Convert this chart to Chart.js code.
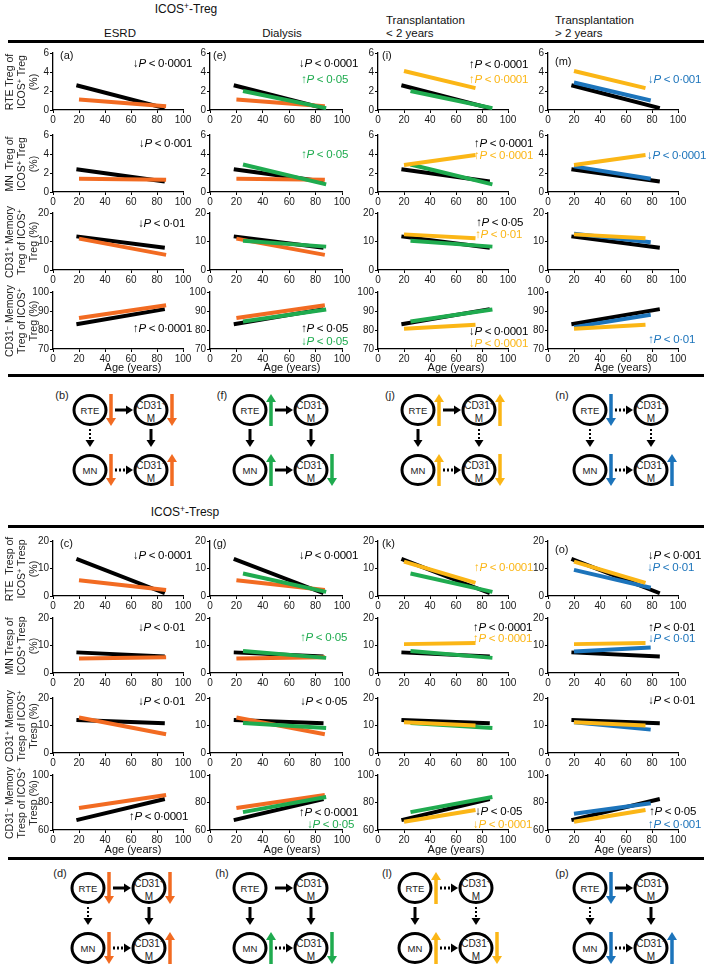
<!DOCTYPE html>
<html>
<head>
<meta charset="utf-8">
<script src="https://cdn.jsdelivr.net/npm/chart.js@4.4.1/dist/chart.umd.min.js"></script>
<style>
  body { margin: 0; background: #fff; }
  #page { position: relative; width: 709px; height: 964px; overflow: hidden;
          font-family: "Liberation Sans", Arial, sans-serif; color: #111; }
  .abs { position: absolute; white-space: nowrap; }
  .rule { position: absolute; left: 8px; width: 696px; height: 3px; background: #000; }
  .hdr { font-size: 11.5px; line-height: 13px; }
  .ylab { position: absolute; width: 110px; height: 36px; text-align: center; font-size: 10.5px;
          line-height: 11.8px; transform: rotate(-90deg); white-space: nowrap; color: #1a1a1a; }
  .pv { font-size: 11.5px; line-height: 12px; letter-spacing: -0.3px; }
  .tag { font-size: 11px; line-height: 12px; }
  sup { font-size: 70%; line-height: 0; vertical-align: 0.45em; }
  canvas { position: absolute; }
  svg { position: absolute; left: 0; top: 0; }
</style>
</head>
<body>
<div id="page">
  <svg id="diag" width="709" height="964"></svg>
</div>
<script>
// --- data -------------------------------------------------------------
// age span (years) of each regression line
const ageHC = [18, 86];
const ageESRD = [20, 87];
const ageDialysis = [25, 88];
const ageTxEarly = [20, 75];
const ageTxLate = [20, 79];

// fitted % at first and last age, one pair per row
// rows: Treg RTE, MN, CD31+ mem, CD31- mem, Tresp RTE, MN, CD31+ mem, CD31- mem
const fitHC       = [[2.6, 0.2], [2.4, 1.1], [11.8, 7.8], [83, 91],   [13.5, 1.0], [7.5, 6.0], [12.0, 10.8], [67.2, 82.5]];
const fitESRD     = [[1.1, 0.4], [1.4, 1.3], [11.0, 5.3], [86.3, 93], [5.7, 2.2],  [5.3, 5.7], [12.9, 6.8],  [76, 85.5]];
const fitDialysis = [[2.0, 0.2], [2.9, 0.8], [10.3, 8.2], [84.5, 90.8], [8.2, 1.5], [8.0, 5.5], [10.9, 9.1],  [73, 84]];
const fitTxEarly  = [[4.1, 2.3], [2.85, 3.9], [12.5, 11.1], [80.6, 82.8], [12.5, 4.8], [10.5, 10.9], [11.2, 10.0], [66, 74.5]];
const fitTxLate   = [[2.9, 1.0], [2.7, 1.4], [12.7, 9.7], [81.5, 88], [9.5, 3.0],  [7.8, 9.3], [11.2, 8.5],  [71.8, 79.5]];

// y axis ranges per row
const yMin  = [0, 0, 0, 70, 0, 0, 0, 60];
const yMax  = [6, 6, 20, 100, 20, 20, 20, 100];
const yStep = [2, 2, 5, 10, 5, 5, 5, 10];
const xMax = 100, xStep = 20;

const rowTitles = [
  ['RTE Treg of', 'ICOS<sup>+</sup> Treg', '(%)'],
  ['MN&nbsp; Treg of', 'ICOS<sup>+</sup> Treg', '(%)'],
  ['CD31<sup>+</sup> Memory', 'Treg of ICOS<sup>+</sup>', 'Treg (%)'],
  ['CD31<sup>−</sup> Memory', 'Treg of ICOS<sup>+</sup>', 'Treg (%)'],
  ['RTE&nbsp; Tresp of', 'ICOS<sup>+</sup> Tresp', '(%)'],
  ['MN Tresp of', 'ICOS<sup>+</sup> Tresp', '(%)'],
  ['CD31<sup>+</sup> Memory', 'Tresp of ICOS<sup>+</sup>', 'Tresp (%)'],
  ['CD31<sup>−</sup> Memory', 'Tresp of ICOS<sup>+</sup>', 'Tresp (%)']
];
const panelTags = [['(a)', '(e)', '(i)', '(m)'], ['(c)', '(g)', '(k)', '(o)']];

// which groups are plotted in each column
const columnGroups = [
  ['esrd', 'hc'],
  ['dialysis', 'esrd', 'hc'],
  ['txEarly', 'dialysis', 'hc'],
  ['txEarly', 'txLate', 'hc']
];

// p-value notes: [rightX, centerY, group, arrow, p]
const pNotes = [
  [192, 63, 'hc', '↓', '0·0001'], [358, 63, 'hc', '↓', '0·0001'], [348, 79, 'dialysis', '↑', '0·05'],
  [528, 64, 'hc', '↑', '0·0001'], [528, 79, 'txEarly', '↑', '0·0001'], [701, 79, 'txLate', '↓', '0·001'],
  [192, 143, 'hc', '↓', '0·001'], [348, 154, 'dialysis', '↑', '0·05'],
  [533, 143, 'hc', '↑', '0·0001'], [533, 155, 'txEarly', '↑', '0·0001'], [706, 155, 'txLate', '↓', '0·0001'],
  [185, 223, 'hc', '↓', '0·01'], [523, 222, 'hc', '↑', '0·05'], [522, 234, 'txEarly', '↑', '0·01'],
  [192, 328, 'hc', '↑', '0·0001'], [348, 328, 'hc', '↑', '0·05'], [348, 341, 'dialysis', '↓', '0·05'],
  [528, 331, 'hc', '↓', '0·0001'], [528, 343, 'txEarly', '↓', '0·0001'], [695, 339, 'txLate', '↑', '0·01'],
  [192, 555, 'hc', '↓', '0·0001'], [358, 555, 'hc', '↓', '0·0001'], [533, 567, 'txEarly', '↑', '0·0001'],
  [701, 555, 'hc', '↓', '0·001'], [694, 567, 'txLate', '↓', '0·01'],
  [185, 627, 'hc', '↓', '0·01'], [347, 637, 'dialysis', '↑', '0·05'],
  [532, 627, 'hc', '↑', '0·0001'], [532, 638, 'txEarly', '↑', '0·0001'],
  [695, 627, 'hc', '↑', '0·01'], [695, 638, 'txLate', '↓', '0·01'],
  [185, 701, 'hc', '↓', '0·01'], [347, 701, 'hc', '↓', '0·05'], [695, 700, 'hc', '↓', '0·01'],
  [188, 816, 'hc', '↑', '0·0001'], [358, 812, 'hc', '↑', '0·0001'], [354, 824, 'dialysis', '↓', '0·05'],
  [522, 811, 'hc', '↓', '0·05'], [532, 824, 'txEarly', '↓', '0·0001'],
  [696, 811, 'hc', '↑', '0·05'], [701, 824, 'txLate', '↑', '0·001']
];

// schematic summaries: trend per node [RTE, CD31+ M, MN, CD31- M], link solid? [RTE>CD31+, RTE>MN, CD31+>CD31-, MN>CD31-]
const diagTags   = ['(b)', '(f)', '(j)', '(n)', '(d)', '(h)', '(l)', '(p)'];
const diagGroup  = ['esrd', 'dialysis', 'txEarly', 'txLate', 'esrd', 'dialysis', 'txEarly', 'txLate'];
const diagTrend  = [[-1, -1, -1, 1], [1, 0, 1, -1], [1, 1, 1, -1], [-1, 0, -1, 1],
                    [-1, -1, -1, 1], [0, 0, 1, -1], [1, 0, 1, -1], [-1, 0, -1, 1]];
const diagSolid  = [[1, 0, 1, 0], [1, 1, 1, 1], [1, 1, 0, 0], [0, 0, 0, 0],
                    [1, 0, 1, 0], [1, 1, 1, 0], [0, 1, 0, 0], [1, 0, 1, 0]];

// --- layout -----------------------------------------------------------
const colLeft = [53, 210, 378, 548];
const colWidth = [130, 132, 130, 130];
const rowTop = [53, 135, 213, 292, 541, 618, 698, 775];
const rowHeight = [57, 57, 57, 57, 55, 55, 55, 55];
const ageTitleX = [133, 292, 456, 623];
const ageTitleY = [368, 850];
const diagPos = [[90, 410], [250, 410], [418, 410], [590, 410], [88, 888], [250, 888], [415, 888], [590, 888]];

const colors = { hc: '#000000', esrd: '#f26b22', dialysis: '#1fab4f', txEarly: '#fbb616', txLate: '#1c74bb' };
const groups = {
  hc: { age: ageHC, fit: fitHC },
  esrd: { age: ageESRD, fit: fitESRD },
  dialysis: { age: ageDialysis, fit: fitDialysis },
  txEarly: { age: ageTxEarly, fit: fitTxEarly },
  txLate: { age: ageTxLate, fit: fitTxLate }
};

const page = document.getElementById('page');
Chart.defaults.font.family = '"Liberation Sans", Arial, sans-serif';

function addDiv(cls, html, css) {
  const d = document.createElement('div');
  d.className = cls;
  d.innerHTML = html;
  d.style.cssText += css;
  page.appendChild(d);
  return d;
}

// headers and rules
addDiv('abs hdr', 'ICOS<sup>+</sup>-Treg', 'left:136px;top:3px;width:100px;text-align:center;font-size:12px;');
addDiv('abs hdr', 'ESRD', 'left:80px;top:27px;width:80px;text-align:center;');
addDiv('abs hdr', 'Dialysis', 'left:242px;top:27px;width:80px;text-align:center;');
addDiv('abs hdr', 'Transplantation<br>&lt; 2 years', 'left:386px;top:14px;');
addDiv('abs hdr', 'Transplantation<br>&gt; 2 years', 'left:555px;top:14px;');
addDiv('abs hdr', 'ICOS<sup>+</sup>-Tresp', 'left:135px;top:506px;width:100px;text-align:center;font-size:12px;');
[40, 374, 525, 857].forEach(y => addDiv('rule', '', `top:${y}px;`));

// --- panels -----------------------------------------------------------
const PAD_L = 26, PAD_R = 14, PAD_T = 8, PAD_B = 18;

function axisBase() {
  return {
    border: { display: true, color: '#000', width: 1.3 },
    grid: { display: true, drawOnChartArea: false, drawTicks: true, tickLength: 3, color: '#000', lineWidth: 1 },
    ticks: { color: '#1a1a1a', font: { size: 10 }, padding: 1 }
  };
}

function drawPanel(row, col) {
  const left = colLeft[col], top = rowTop[row], w = colWidth[col], h = rowHeight[row];
  const W = PAD_L + w + PAD_R, H = PAD_T + h + PAD_B;
  const cv = document.createElement('canvas');
  cv.width = W; cv.height = H;
  cv.style.left = (left - PAD_L) + 'px';
  cv.style.top = (top - PAD_T) + 'px';
  cv.style.width = W + 'px';
  cv.style.height = H + 'px';
  page.appendChild(cv);

  const datasets = columnGroups[col].map(g => ({
    data: [
      { x: groups[g].age[0], y: groups[g].fit[row][0] },
      { x: groups[g].age[1], y: groups[g].fit[row][1] }
    ],
    borderColor: colors[g],
    borderWidth: 4,
    borderCapStyle: 'butt',
    pointRadius: 0,
    fill: false,
    tension: 0
  }));

  const xAxis = axisBase();
  xAxis.type = 'linear';
  xAxis.min = 0; xAxis.max = xMax;
  xAxis.ticks.stepSize = xStep;
  xAxis.ticks.maxRotation = 0;
  xAxis.ticks.autoSkip = false;
  xAxis.afterFit = s => { s.height = PAD_B; };

  const yAxis = axisBase();
  yAxis.min = yMin[row]; yAxis.max = yMax[row];
  yAxis.ticks.stepSize = yStep[row];
  yAxis.afterFit = s => { s.width = PAD_L; };

  new Chart(cv, {
    type: 'line',
    data: { datasets },
    options: {
      responsive: false,
      animation: false,
      devicePixelRatio: 1,
      layout: { autoPadding: false, padding: { top: PAD_T, right: PAD_R, left: 0, bottom: 0 } },
      plugins: { legend: { display: false }, tooltip: { enabled: false } },
      scales: { x: xAxis, y: yAxis }
    }
  });
}

for (let r = 0; r < 8; r++) {
  for (let c = 0; c < 4; c++) drawPanel(r, c);
  const cy = rowTop[r] + rowHeight[r] / 2;
  addDiv('ylab', rowTitles[r].join('<br>'), `left:${22 - 55}px;top:${cy - 18}px;`);
}

// panel tags
const tagOffset = [[7, 55], [3, 55], [4, 55], [7, 61]];
panelTags.forEach((tags, s) => {
  tags.forEach((t, c) => {
    const dy = s === 0 ? tagOffset[c][1] : tagOffset[c][1] + 488;
    addDiv('abs tag', t, `left:${colLeft[c] + tagOffset[c][0]}px;top:${dy - 6}px;`);
  });
});

// age titles
ageTitleY.forEach(y => ageTitleX.forEach(x =>
  addDiv('abs hdr', 'Age (years)', `left:${x - 40}px;width:80px;text-align:center;top:${y - 7}px;font-size:11px;`)));

// p-values
pNotes.forEach(([rx, cy, g, arrow, p]) => {
  addDiv('abs pv', `${arrow}<i>P</i> &lt; ${p}`,
    `right:${709 - rx}px;top:${cy - 6}px;color:${colors[g]};`);
});

// --- schematic diagrams ---------------------------------------------
const svg = document.getElementById('diag');
const NS = 'http://www.w3.org/2000/svg';
function el(name, attrs) {
  const e = document.createElementNS(NS, name);
  for (const k in attrs) e.setAttribute(k, attrs[k]);
  svg.appendChild(e);
  return e;
}
function arrow(x1, y1, x2, y2, color, width, headLen, headW, dotted) {
  const L = Math.hypot(x2 - x1, y2 - y1), ux = (x2 - x1) / L, uy = (y2 - y1) / L;
  const bx = x2 - ux * headLen, by = y2 - uy * headLen;
  const line = { x1, y1, x2: bx, y2: by, stroke: color, 'stroke-width': width };
  if (dotted) line['stroke-dasharray'] = '2,2';
  el('line', line);
  el('polygon', {
    points: `${x2},${y2} ${bx - uy * headW},${by + ux * headW} ${bx + uy * headW},${by - ux * headW}`,
    fill: color
  });
}

const DX = 61, DY = 60;
diagPos.forEach(([cx, cy], i) => {
  const col = colors[diagGroup[i]];
  const nodes = [[cx, cy], [cx + DX, cy], [cx, cy + DY], [cx + DX, cy + DY]];
  const solid = diagSolid[i];
  // links
  arrow(cx + 25, cy, cx + DX - 18, cy, '#000', 3, 7, 4.5, !solid[0]);
  arrow(cx, cy + 19, cx, cy + 37, '#000', solid[1] ? 3 : 2, 7, 4.5, !solid[1]);
  arrow(cx + DX, cy + 19, cx + DX, cy + 37, '#000', solid[2] ? 3 : 2, 7, 4.5, !solid[2]);
  arrow(cx + 25, cy + DY, cx + DX - 18, cy + DY, '#000', 3, 7, 4.5, !solid[3]);
  // nodes
  nodes.forEach(([x, y], k) => {
    el('ellipse', { cx: x, cy: y, rx: 16, ry: 14.5, fill: '#fff', stroke: '#000', 'stroke-width': 3 });
    const t = diagTrend[i][k];
    if (t !== 0) {
      const ax = x + 21;
      if (t > 0) arrow(ax, y + 16, ax, y - 16, col, 3.5, 8, 5, false);
      else arrow(ax, y - 16, ax, y + 16, col, 3.5, 8, 5, false);
    }
  });
  const font = 'font-family="Liberation Sans, Arial, sans-serif" fill="#222" text-anchor="middle"';
  const g = document.createElementNS(NS, 'g');
  g.innerHTML =
    `<text x="${cx}" y="${cy + 3.5}" font-size="9.5" ${font}>RTE</text>` +
    `<text x="${cx}" y="${cy + DY + 3.5}" font-size="9.5" ${font}>MN</text>` +
    `<text x="${cx + DX}" y="${cy - 1.5}" font-size="10" ${font}>CD31<tspan font-size="7" dy="-3">+</tspan></text>` +
    `<text x="${cx + DX}" y="${cy + 11.5}" font-size="10" ${font}>M</text>` +
    `<text x="${cx + DX}" y="${cy + DY - 1.5}" font-size="10" ${font}>CD31<tspan font-size="7" dy="-3">−</tspan></text>` +
    `<text x="${cx + DX}" y="${cy + DY + 11.5}" font-size="10" ${font}>M</text>` +
    `<text x="${cx - 28}" y="${cy - 11}" font-size="11" ${font}>${diagTags[i]}</text>`;
  svg.appendChild(g);
});
</script>
</body>
</html>
